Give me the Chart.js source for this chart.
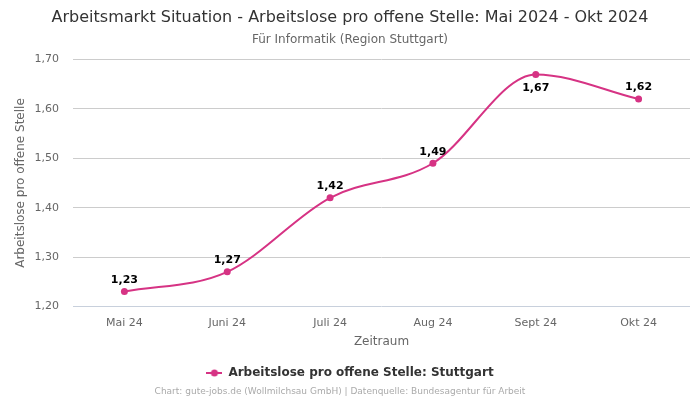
<!DOCTYPE html>
<html>
<head>
<meta charset="utf-8">
<script src="https://cdn.jsdelivr.net/npm/chart.js@4/dist/chart.umd.min.js"></script>
<style>
  html, body { margin: 0; padding: 0; background: #fff; }
  #wrap { width: 700px; height: 400px; }
</style>
</head>
<body>
<div id="wrap"><canvas id="chart"></canvas></div>
<script>
const monate = ['Mai 24', 'Juni 24', 'Juli 24', 'Aug 24', 'Sept 24', 'Okt 24'];
const werte = [1.23, 1.27, 1.42, 1.49, 1.67, 1.62];
const farbe = '#d63384';

const fmt = v => v.toFixed(2).replace('.', ',');

// kleines Symbol fuer die Legende: Linie mit Punkt
const legendIcon = document.createElement('canvas');
legendIcon.width = 16; legendIcon.height = 10;
(() => {
  const c = legendIcon.getContext('2d');
  c.strokeStyle = farbe; c.lineWidth = 2;
  c.beginPath(); c.moveTo(0, 5); c.lineTo(16, 5); c.stroke();
  c.fillStyle = farbe;
  c.beginPath(); c.arc(8, 5, 3.5, 0, Math.PI * 2); c.fill();
})();

const wertLabels = {
  id: 'wertLabels',
  afterDatasetsDraw(chart) {
    const ctx = chart.ctx;
    const meta = chart.getDatasetMeta(0);
    const max = Math.max(...werte);
    ctx.save();
    ctx.font = 'bold 11px "DejaVu Sans"';
    ctx.fillStyle = '#000';
    ctx.textAlign = 'center';
    meta.data.forEach((pt, i) => {
      const unten = werte[i] === max;
      ctx.textBaseline = unten ? 'top' : 'bottom';
      ctx.fillText(fmt(werte[i]), pt.x, unten ? pt.y + 8 : pt.y - 6);
    });
    ctx.restore();
  }
};

const fussnote = {
  id: 'fussnote',
  afterDraw(chart) {
    const ctx = chart.ctx;
    ctx.save();
    ctx.font = '9px "DejaVu Sans"';
    ctx.fillStyle = '#aaa';
    ctx.textAlign = 'center';
    ctx.textBaseline = 'middle';
    ctx.fillText('Chart: gute-jobs.de (Wollmilchsau GmbH) | Datenquelle: Bundesagentur für Arbeit', 340, 392);
    ctx.restore();
  }
};

new Chart(document.getElementById('chart'), {
  type: 'line',
  data: {
    labels: monate,
    datasets: [{
      label: 'Arbeitslose pro offene Stelle: Stuttgart',
      data: werte,
      borderColor: farbe,
      backgroundColor: farbe,
      borderWidth: 2,
      pointRadius: 3.5,
      pointBorderWidth: 0,
      pointHoverRadius: 5,
      cubicInterpolationMode: 'monotone',
      pointStyle: 'circle'
    }]
  },
  options: {
    responsive: true,
    maintainAspectRatio: false,
    animation: false,
    layout: { padding: { left: 10, right: 10, bottom: 11 } },
    plugins: {
      title: {
        display: true,
        text: 'Arbeitsmarkt Situation - Arbeitslose pro offene Stelle: Mai 2024 - Okt 2024',
        color: '#333',
        font: { size: 16, family: 'DejaVu Sans', weight: 'normal' },
        padding: { top: 8, bottom: 5 }
      },
      subtitle: {
        display: true,
        text: 'Für Informatik (Region Stuttgart)',
        color: '#666',
        font: { size: 12, family: 'DejaVu Sans' },
        padding: { bottom: 13 }
      },
      legend: {
        position: 'bottom',
        labels: {
          color: '#333',
          font: { size: 12, family: 'DejaVu Sans', weight: 'bold' },
          usePointStyle: true,
          pointStyleWidth: 16,
          padding: 18,
          generateLabels: chart => [{
            text: chart.data.datasets[0].label,
            pointStyle: legendIcon,
            fillStyle: farbe,
            strokeStyle: farbe,
            lineWidth: 0,
            fontColor: '#333',
            datasetIndex: 0
          }]
        }
      },
      tooltip: { enabled: false }
    },
    scales: {
      x: {
        offset: true,
        grid: { display: false },
        border: { display: false },
        ticks: { color: '#666', font: { size: 11, family: 'DejaVu Sans' }, padding: 2 },
        title: { display: true, text: 'Zeitraum', color: '#666', font: { size: 12, family: 'DejaVu Sans' }, padding: { top: 3, bottom: 0 } }
      },
      y: {
        min: 1.2,
        max: 1.7,
        afterFit: s => { s.width = 63; },
        grid: {
          color: c => c.index === 0 ? '#c8d0dc' : '#ccc',
          drawTicks: false
        },
        border: { display: false },
        ticks: {
          stepSize: 0.1,
          color: '#666',
          padding: 14,
          font: { size: 11, family: 'DejaVu Sans' },
          callback: v => fmt(v)
        },
        title: { display: true, text: 'Arbeitslose pro offene Stelle', color: '#666', font: { size: 12, family: 'DejaVu Sans' }, padding: { top: 4, bottom: 0 } }
      }
    }
  },
  plugins: [wertLabels, fussnote]
});
</script>
</body>
</html>
